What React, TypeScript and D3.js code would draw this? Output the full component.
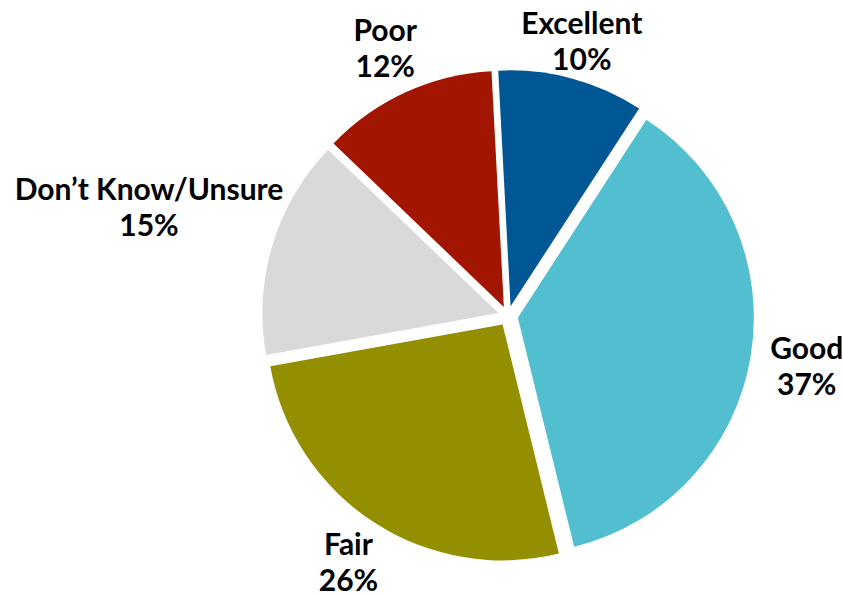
import React, { useEffect, useRef } from 'react';
import * as d3 from 'd3';

const categories = ['Excellent', 'Good', 'Fair', 'Don’t Know/Unsure', 'Poor'];
const values = [10, 37, 26, 15, 12];
const colors = ['#015694', '#52bfd0', '#948f00', '#d9d9d9', '#a21500'];

// distance of each label block's centre from the pie centre, along the slice's mid angle
const labelDistance = [285, 303, 293, 375, 295];

const W = 843;
const H = 595;

const App = () => {
  const ref = useRef<SVGSVGElement>(null);

  useEffect(() => {
    const svg = d3.select(ref.current);
    svg.selectAll('*').remove();

    const cx = 508;
    const cy = 316;
    const radius = 236;
    const explode = 10;
    const fontSize = 30;
    const lineGap = 36;
    const startAngle = (-3 * Math.PI) / 180;

    const pie = d3
      .pie<number>()
      .sort(null)
      .startAngle(startAngle)
      .endAngle(startAngle + Math.PI * 2);
    const arcs = pie(values);
    const arc = d3.arc<d3.PieArcDatum<number>>().innerRadius(0).outerRadius(radius);

    const g = svg.append('g').attr('transform', `translate(${cx},${cy})`);

    g.selectAll('path')
      .data(arcs)
      .enter()
      .append('path')
      .attr('d', arc)
      .attr('fill', (d, i) => colors[i])
      .attr('transform', d => {
        const a = (d.startAngle + d.endAngle) / 2;
        return `translate(${explode * Math.sin(a)},${-explode * Math.cos(a)})`;
      });

    // block spans from cap top to 2nd baseline; centre it on the label point
    const blockMid = (lineGap - fontSize * 0.72) / 2;

    const labels = g
      .selectAll('text.label')
      .data(arcs)
      .enter()
      .append('text')
      .attr('class', 'label')
      .attr('text-anchor', 'middle')
      .style('font-family', 'Lato, "Open Sans", sans-serif')
      .style('font-weight', 'bold')
      .style('font-size', `${fontSize}px`)
      .attr('fill', '#000')
      .attr('transform', (d, i) => {
        const a = (d.startAngle + d.endAngle) / 2;
        const r = labelDistance[i];
        return `translate(${r * Math.sin(a)},${-r * Math.cos(a) - blockMid})`;
      });

    labels.append('tspan').attr('x', 0).attr('y', 0).text((d, i) => categories[i]);
    labels
      .append('tspan')
      .attr('x', 0)
      .attr('y', lineGap)
      .text((d, i) => `${values[i]}%`);
  }, []);

  return (
    <svg
      ref={ref}
      width={W}
      height={H}
      style={{ position: 'absolute', left: 0, top: 0, background: '#fff' }}
    />
  );
};

export default App;
